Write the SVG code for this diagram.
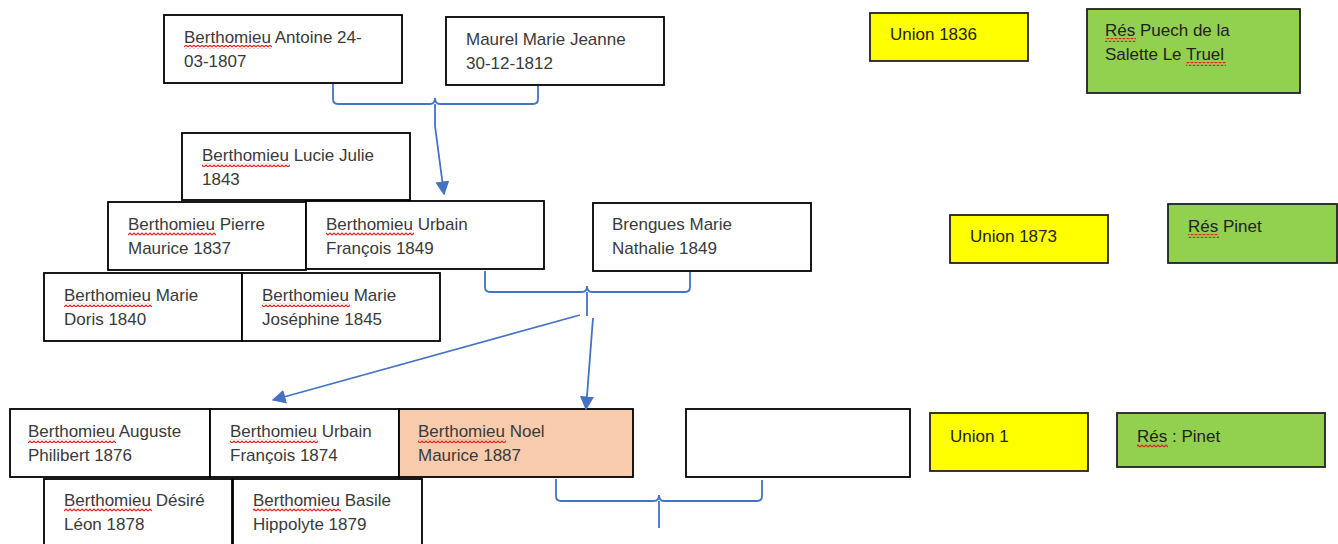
<svg xmlns="http://www.w3.org/2000/svg" width="1338" height="544" viewBox="0 0 1338 544">
<defs>
<style>
.box{fill:#fff;stroke:#000;stroke-width:1.8}
.yel{fill:#ffff00;stroke:#222;stroke-width:1.8}
.grn{fill:#92d050;stroke:#222;stroke-width:1.8}
.sal{fill:#f8cbad;stroke:#000;stroke-width:1.8}
text{font-family:"Liberation Sans",Arial,sans-serif;font-size:17px;fill:#3a3a3a}
.c{fill:none;stroke:#4472c4;stroke-width:1.8}
.sq{fill:url(#wave)}
</style>
<pattern id="wave" x="0" y="0" width="4" height="4" patternUnits="userSpaceOnUse">
<path d="M0,3 L2,1 L4,3" fill="none" stroke="#e02020" stroke-width="1.2"/>
</pattern>
<marker id="ah2" viewBox="0 0 10 10" refX="9" refY="5" markerWidth="14" markerHeight="14" markerUnits="userSpaceOnUse" orient="auto">
<path d="M0,0 L10,5 L0,10 z" fill="#4472c4"/>
</marker>
</defs>
<rect width="1338" height="544" fill="#fff"/>

<g id="n-antoine"><rect class="box" x="164" y="15" width="238" height="68"/><text x="184" y="43">Berthomieu Antoine 24-</text><text x="184" y="67">03-1807</text><rect class="sq" x="184" y="45" width="88" height="4"/></g>
<g id="n-maurel"><rect class="box" x="446" y="17" width="218" height="68"/><text x="466" y="45">Maurel Marie Jeanne</text><text x="466" y="69">30-12-1812</text></g>
<g id="n-union1836"><rect class="yel" x="870" y="13" width="158" height="48"/><text x="890" y="40" style="fill:#222">Union 1836</text></g>
<g id="n-res1"><rect class="grn" x="1087" y="9" width="213" height="84"/><text x="1105" y="36" style="fill:#222">Rés Puech de la</text><text x="1105" y="60" style="fill:#222">Salette Le Truel</text><rect class="sq" x="1105" y="38" width="31" height="4"/><rect class="sq" x="1186" y="62" width="40" height="4"/></g>

<g id="n-lucie"><rect class="box" x="182" y="133" width="228" height="67"/><text x="202" y="161">Berthomieu Lucie Julie</text><text x="202" y="185">1843</text><rect class="sq" x="202" y="163" width="88" height="4"/></g>
<g id="n-pierre"><rect class="box" x="108" y="202" width="198" height="68"/><text x="128" y="230">Berthomieu Pierre</text><text x="128" y="254">Maurice 1837</text><rect class="sq" x="128" y="232" width="88" height="4"/></g>
<g id="n-urbain1849"><rect class="box" x="306" y="201" width="238" height="68"/><text x="326" y="230">Berthomieu Urbain</text><text x="326" y="254">François 1849</text><rect class="sq" x="326" y="232" width="88" height="4"/></g>
<g id="n-brengues"><rect class="box" x="593" y="203" width="218" height="68"/><text x="612" y="230">Brengues Marie</text><text x="612" y="254">Nathalie 1849</text></g>
<g id="n-union1873"><rect class="yel" x="950" y="215" width="158" height="48"/><text x="970" y="242" style="fill:#222">Union 1873</text></g>
<g id="n-res2"><rect class="grn" x="1168" y="204" width="169" height="59"/><text x="1188" y="232" style="fill:#222">Rés Pinet</text><rect class="sq" x="1188" y="234" width="31" height="4"/></g>

<g id="n-doris"><rect class="box" x="44" y="273" width="198" height="68"/><text x="64" y="301">Berthomieu Marie</text><text x="64" y="325">Doris 1840</text><rect class="sq" x="64" y="303" width="88" height="4"/></g>
<g id="n-josephine"><rect class="box" x="242" y="273" width="198" height="68"/><text x="262" y="301">Berthomieu Marie</text><text x="262" y="325">Joséphine 1845</text><rect class="sq" x="262" y="303" width="88" height="4"/></g>

<g id="n-auguste"><rect class="box" x="10" y="409" width="200" height="68"/><text x="28" y="437">Berthomieu Auguste</text><text x="28" y="461">Philibert 1876</text><rect class="sq" x="28" y="439" width="88" height="4"/></g>
<g id="n-urbain1874"><rect class="box" x="210" y="409" width="189" height="68"/><text x="230" y="437">Berthomieu Urbain</text><text x="230" y="461">François 1874</text><rect class="sq" x="230" y="439" width="88" height="4"/></g>
<g id="n-noel"><rect class="sal" x="399" y="409" width="234" height="68"/><text x="418" y="437">Berthomieu Noel</text><text x="418" y="461">Maurice 1887</text><rect class="sq" x="418" y="439" width="88" height="4"/></g>
<g id="n-empty"><rect class="box" x="686" y="409" width="224" height="68"/></g>
<g id="n-union1"><rect class="yel" x="930" y="413" width="158" height="58"/><text x="950" y="442" style="fill:#222">Union 1</text></g>
<g id="n-res3"><rect class="grn" x="1117" y="413" width="208" height="54"/><text x="1137" y="442" style="fill:#222">Rés : Pinet</text><rect class="sq" x="1137" y="444" width="31" height="4"/></g>

<g id="n-desire"><rect class="box" x="44" y="479" width="188" height="70"/><text x="64" y="506">Berthomieu Désiré</text><text x="64" y="530">Léon 1878</text><rect class="sq" x="64" y="508" width="88" height="4"/></g>
<g id="n-basile"><rect class="box" x="233" y="479" width="189" height="70"/><text x="253" y="506">Berthomieu Basile</text><text x="253" y="530">Hippolyte 1879</text><rect class="sq" x="253" y="508" width="88" height="4"/></g>

<g id="connectors">
<path class="c" d="M333,84 V99 Q333,104 338,104 H430 Q435,104 435,98 Q435,104 440,104 H533 Q538,104 538,99 V86"/>
<path class="c" d="M435,104 V126"/>
<path class="c" d="M435,126 L444,194" marker-end="url(#ah2)"/>
<path class="c" d="M485,271 V287 Q485,292 490,292 H582 Q587,292 587,286 Q587,292 592,292 H685 Q690,292 690,287 V272"/>
<path class="c" d="M587,292 V316"/>
<path class="c" d="M580,315 L273,400" marker-end="url(#ah2)"/>
<path class="c" d="M593,318 L586,409" marker-end="url(#ah2)"/>
<path class="c" d="M556,479 V496 Q556,501 561,501 H654 Q659,501 659,495 Q659,501 664,501 H757 Q762,501 762,496 V480"/>
<path class="c" d="M659,501 V528"/>
</g>
</svg>
